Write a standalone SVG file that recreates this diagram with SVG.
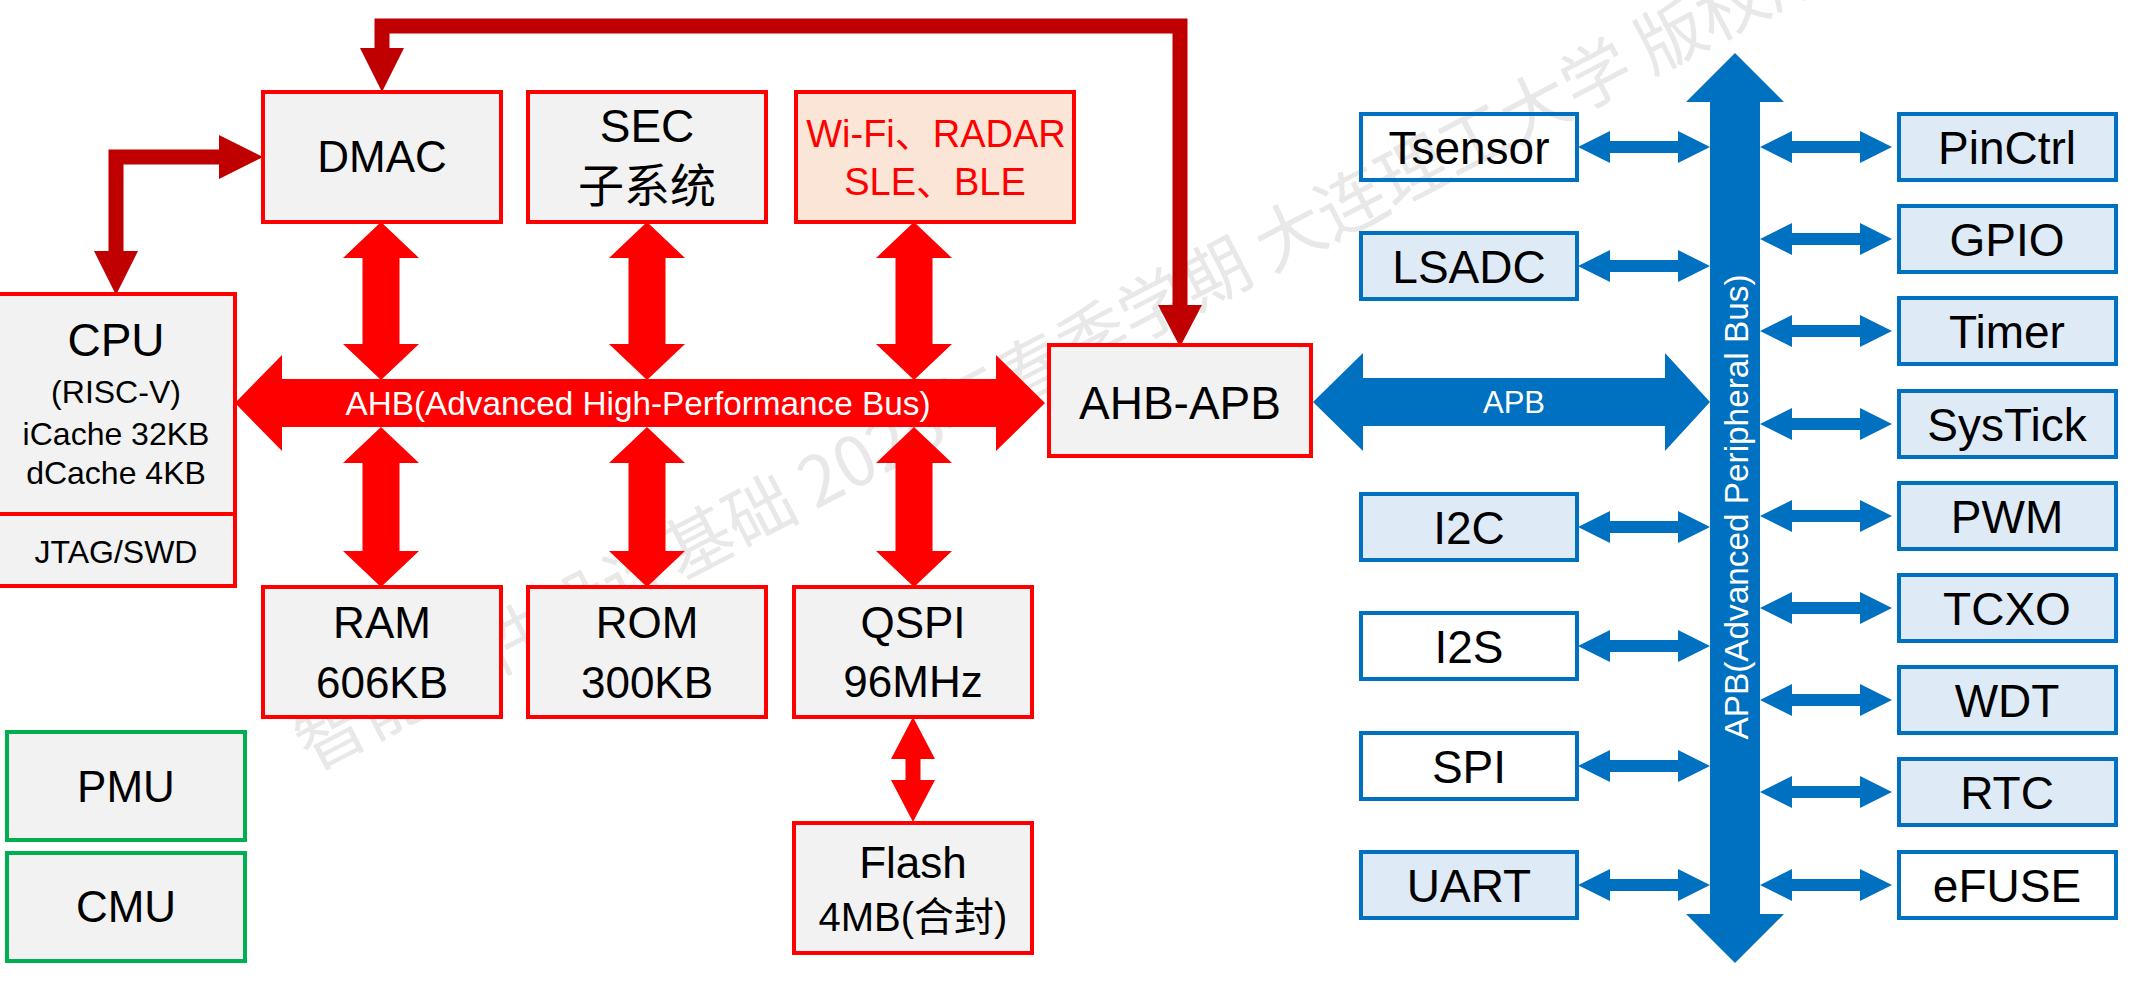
<svg xmlns="http://www.w3.org/2000/svg" width="2156" height="996" viewBox="0 0 2156 996">
<style>
text{font-family:"Liberation Sans","Noto Sans CJK SC",sans-serif;text-anchor:middle;fill:#000}
.rb{fill:#F2F2F2;stroke:#FF0000;stroke-width:4}
.pb{fill:#FBE5D6;stroke:#FF0000;stroke-width:4}
.gb{fill:#F2F2F2;stroke:#00B050;stroke-width:4}
.bb{fill:#DEEBF7;stroke:#0070C0;stroke-width:4}
.wb{fill:none;stroke:#0070C0;stroke-width:4}
.t44{font-size:44px}
.t46{font-size:46px}
.t32{font-size:32px}
.red{fill:#FF0000}
.dred{fill:#C00000}
.blue{fill:#0070C0}
.wm{font-family:"Noto Sans CJK SC",sans-serif;font-size:69px;fill:#E8E8E8;text-anchor:start}
.wt{fill:#FFFFFF}
</style>
<defs>
<path id="barrow" d="M0,0 L32,-16 L32,-6 L100,-6 L100,-16 L132,0 L100,16 L100,6 L32,6 L32,16 Z"/>
</defs>
<rect width="2156" height="996" fill="#FFFFFF"/>
<text class="wm" x="312" y="772" transform="rotate(-27.5 312 772)">智能硬件设计基础 2025年春季学期 大连理工大学 版权所有</text>

<g id="connectors">
<path d="M382,48 V26 H1180 V305" fill="none" stroke="#C00000" stroke-width="15"/>
<polygon class="dred" points="360,48 404,48 382,92"/>
<polygon class="dred" points="1158,305 1202,305 1180,347"/>
<path d="M219,157 H116 V251" fill="none" stroke="#C00000" stroke-width="15"/>
<polygon class="dred" points="219,135 263,157 219,179"/>
<polygon class="dred" points="94,251 138,251 116,295"/>
<polygon class="red" points="235,403 282,355 282,379 996,379 996,355 1045,403 996,451 996,427 282,427 282,451"/>
<text class="wt" x="638" y="415" style="font-size:33px" textLength="585" lengthAdjust="spacingAndGlyphs">AHB(Advanced High-Performance Bus)</text>
<polygon class="red" points="381,222 419,258 399.5,258 399.5,344 419,344 381,380 343,344 362.5,344 362.5,258 343,258"/>
<polygon class="red" points="381,427 419,463 399.5,463 399.5,551 419,551 381,587 343,551 362.5,551 362.5,463 343,463"/>
<polygon class="red" points="647,222 685,258 665.5,258 665.5,344 685,344 647,380 609,344 628.5,344 628.5,258 609,258"/>
<polygon class="red" points="647,427 685,463 665.5,463 665.5,551 685,551 647,587 609,551 628.5,551 628.5,463 609,463"/>
<polygon class="red" points="914,222 952,258 932.5,258 932.5,344 952,344 914,380 876,344 895.5,344 895.5,258 876,258"/>
<polygon class="red" points="914,427 952,463 932.5,463 932.5,551 952,551 914,587 876,551 895.5,551 895.5,463 876,463"/>
<polygon class="red" points="913,717 935,759 920.5,759 920.5,780 935,780 913,822 891,780 905.5,780 905.5,759 891,759"/>
<polygon class="blue" points="1313,402 1363,353 1363,378 1665,378 1665,353 1710,402 1665,451 1665,426 1363,426 1363,451"/>
<text class="wt" x="1514" y="413" style="font-size:31px">APB</text>
<polygon class="blue" points="1735,53 1784,102 1760,102 1760,914 1784,914 1735,963 1686,914 1710,914 1710,102 1686,102"/>
<text class="wt" transform="translate(1748 507) rotate(-90)" x="0" y="0" style="font-size:33px" textLength="465" lengthAdjust="spacingAndGlyphs">APB(Advanced Peripheral Bus)</text>
<use href="#barrow" class="blue" transform="translate(1578 147)"/>
<use href="#barrow" class="blue" transform="translate(1578 266)"/>
<use href="#barrow" class="blue" transform="translate(1578 527)"/>
<use href="#barrow" class="blue" transform="translate(1578 646)"/>
<use href="#barrow" class="blue" transform="translate(1578 766)"/>
<use href="#barrow" class="blue" transform="translate(1578 885)"/>
<use href="#barrow" class="blue" transform="translate(1760 147)"/>
<use href="#barrow" class="blue" transform="translate(1760 239)"/>
<use href="#barrow" class="blue" transform="translate(1760 331)"/>
<use href="#barrow" class="blue" transform="translate(1760 424)"/>
<use href="#barrow" class="blue" transform="translate(1760 516)"/>
<use href="#barrow" class="blue" transform="translate(1760 608)"/>
<use href="#barrow" class="blue" transform="translate(1760 700)"/>
<use href="#barrow" class="blue" transform="translate(1760 792)"/>
<use href="#barrow" class="blue" transform="translate(1760 885)"/>
</g>

<g id="dmac"><rect class="rb" x="263" y="92" width="238" height="130"/><text class="t44" x="382" y="172">DMAC</text></g>
<g id="sec"><rect class="rb" x="528" y="92" width="238" height="130"/><text class="t46" x="647" y="142">SEC</text><text class="t46" x="647" y="202">子系统</text></g>
<g id="wifi"><rect class="pb" x="796" y="92" width="278" height="130"/><text x="936" y="147" style="font-size:38px;fill:#FF0000">Wi-Fi、RADAR</text><text x="935" y="195" style="font-size:38px;fill:#FF0000">SLE、BLE</text></g>
<g id="cpu"><rect class="rb" x="-4" y="294" width="239" height="220"/><text class="t46" x="116" y="356">CPU</text><text class="t32" x="116" y="403">(RISC-V)</text><text class="t32" x="116" y="445">iCache 32KB</text><text class="t32" x="116" y="484">dCache 4KB</text></g>
<g id="jtag"><rect class="rb" x="-4" y="514" width="239" height="72"/><text class="t32" x="116" y="563">JTAG/SWD</text></g>
<g id="ram"><rect class="rb" x="263" y="587" width="238" height="130"/><text class="t44" x="382" y="638">RAM</text><text class="t44" x="382" y="698">606KB</text></g>
<g id="rom"><rect class="rb" x="528" y="587" width="238" height="130"/><text class="t44" x="647" y="638">ROM</text><text class="t44" x="647" y="698">300KB</text></g>
<g id="qspi"><rect class="rb" x="794" y="587" width="238" height="130"/><text class="t44" x="913" y="638">QSPI</text><text class="t44" x="913" y="697">96MHz</text></g>
<g id="flash"><rect class="rb" x="794" y="823" width="238" height="130"/><text class="t44" x="913" y="878">Flash</text><text x="913" y="931" style="font-size:40px">4MB(合封)</text></g>
<g id="pmu"><rect class="gb" x="7" y="732" width="238" height="108"/><text class="t44" x="126" y="802">PMU</text></g>
<g id="cmu"><rect class="gb" x="7" y="853" width="238" height="108"/><text class="t44" x="126" y="922">CMU</text></g>
<g id="ahb-apb"><rect class="rb" x="1049" y="345" width="262" height="111"/><text class="t46" x="1180" y="419">AHB-APB</text></g>

<g id="tsensor"><rect class="wb" x="1361" y="114" width="216" height="66"/><text class="t46" x="1469" y="164">Tsensor</text></g>
<g id="lsadc"><rect class="bb" x="1361" y="233" width="216" height="66"/><text class="t46" x="1469" y="283">LSADC</text></g>
<g id="i2c"><rect class="bb" x="1361" y="494" width="216" height="66"/><text class="t46" x="1469" y="544">I2C</text></g>
<g id="i2s"><rect class="wb" x="1361" y="613" width="216" height="66"/><text class="t46" x="1469" y="663">I2S</text></g>
<g id="spi"><rect class="wb" x="1361" y="733" width="216" height="66"/><text class="t46" x="1469" y="783">SPI</text></g>
<g id="uart"><rect class="bb" x="1361" y="852" width="216" height="66"/><text class="t46" x="1469" y="902">UART</text></g>

<g id="pinctrl"><rect class="bb" x="1899" y="114" width="217" height="66"/><text class="t46" x="2007" y="164">PinCtrl</text></g>
<g id="gpio"><rect class="bb" x="1899" y="206" width="217" height="66"/><text class="t46" x="2007" y="256">GPIO</text></g>
<g id="timer"><rect class="bb" x="1899" y="298" width="217" height="66"/><text class="t46" x="2007" y="348">Timer</text></g>
<g id="systick"><rect class="bb" x="1899" y="391" width="217" height="66"/><text class="t46" x="2007" y="441">SysTick</text></g>
<g id="pwm"><rect class="bb" x="1899" y="483" width="217" height="66"/><text class="t46" x="2007" y="533">PWM</text></g>
<g id="tcxo"><rect class="bb" x="1899" y="575" width="217" height="66"/><text class="t46" x="2007" y="625">TCXO</text></g>
<g id="wdt"><rect class="bb" x="1899" y="667" width="217" height="66"/><text class="t46" x="2007" y="717">WDT</text></g>
<g id="rtc"><rect class="bb" x="1899" y="759" width="217" height="66"/><text class="t46" x="2007" y="809">RTC</text></g>
<g id="efuse"><rect class="wb" x="1899" y="852" width="217" height="66"/><text class="t46" x="2007" y="902">eFUSE</text></g>
</svg>
